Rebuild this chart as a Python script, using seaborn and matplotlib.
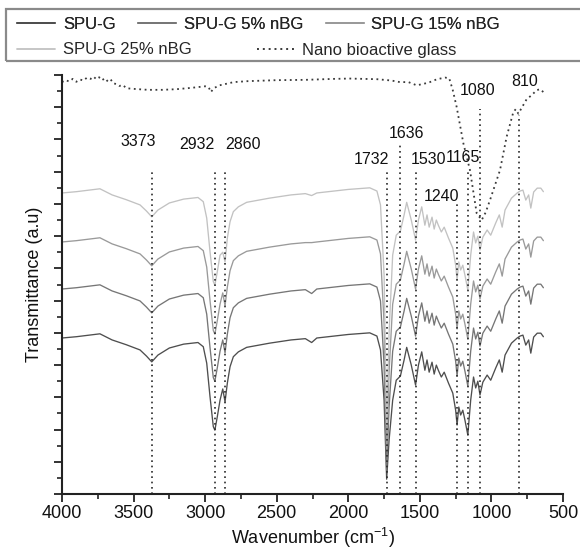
import matplotlib
matplotlib.use("Agg")
import matplotlib.pyplot as plt
from matplotlib.patches import Rectangle
from matplotlib.lines import Line2D
import seaborn as sns
import pandas as pd

# ---------------- data ----------------
wavenumber = [4000, 3900, 3735, 3650, 3550, 3455, 3410, 3373, 3330, 3250, 3150, 3050,
              3013, 2989, 2966, 2943, 2932, 2915, 2896, 2877, 2861, 2845, 2826, 2803,
              2768, 2710,
              2550, 2400, 2300, 2256, 2220, 2100, 2000, 1850, 1800, 1775, 1750, 1732,
              1715, 1690, 1665, 1636, 1610, 1592, 1560, 1530, 1510, 1487, 1465, 1450,
              1435, 1415, 1400, 1385, 1371, 1350, 1330, 1300, 1270, 1250, 1240, 1228,
              1215, 1200, 1185, 1165, 1145, 1125, 1110, 1095, 1080, 1060, 1030, 1005,
              970, 945, 925, 905, 860, 820, 800, 780, 760, 740, 725, 705, 680, 655, 637]

spu_g = [4.84, 4.88, 4.97, 4.78, 4.63, 4.47, 4.28, 4.10, 4.31, 4.53, 4.65, 4.70,
         4.57, 4.06, 3.02, 2.09, 1.98, 2.40, 2.91, 3.26, 2.86, 3.44, 3.95, 4.26,
         4.41, 4.55,
         4.68, 4.78, 4.82, 4.70, 4.84, 4.90, 4.95, 5.00, 4.90, 4.47, 2.91, 0.46,
         1.67, 2.91, 3.53, 3.66, 4.16, 4.55, 4.00, 3.38, 4.00, 4.41, 3.84, 4.16,
         3.78, 4.09, 3.72, 4.00, 3.84, 3.63, 3.78, 3.44, 3.13, 2.60, 2.14, 2.70,
         2.45, 2.60, 2.29, 1.83, 2.91, 3.63, 3.29, 3.50, 3.07, 3.47, 3.69, 3.53,
         3.91, 4.16, 3.78, 4.31, 4.68, 4.84, 4.90, 4.93, 4.62, 4.78, 4.37, 4.87,
         4.99, 4.99, 4.88]

spu_g_5 = [6.36, 6.40, 6.49, 6.30, 6.15, 5.99, 5.80, 5.62, 5.83, 6.05, 6.17, 6.22,
           6.09, 5.58, 4.54, 3.61, 3.50, 3.92, 4.43, 4.78, 4.38, 4.96, 5.47, 5.78,
           5.93, 6.07,
           6.20, 6.30, 6.34, 6.22, 6.36, 6.42, 6.47, 6.52, 6.42, 5.99, 4.00, 0.74,
           2.70, 4.43, 5.05, 5.18, 5.68, 6.07, 5.52, 4.90, 5.52, 5.93, 5.36, 5.68,
           5.30, 5.61, 5.24, 5.52, 5.36, 5.15, 5.30, 4.96, 4.65, 4.12, 3.66, 4.22,
           3.97, 4.12, 3.81, 3.35, 4.43, 5.15, 4.81, 5.02, 4.59, 4.99, 5.21, 5.05,
           5.43, 5.68, 5.30, 5.83, 6.20, 6.36, 6.42, 6.45, 6.14, 6.30, 5.89, 6.39,
           6.51, 6.51, 6.40]

spu_g_15 = [7.82, 7.86, 7.95, 7.76, 7.61, 7.45, 7.26, 7.08, 7.29, 7.51, 7.63, 7.68,
            7.55, 7.04, 6.00, 5.07, 4.96, 5.38, 5.89, 6.24, 5.84, 6.42, 6.93, 7.24,
            7.39, 7.53,
            7.66, 7.76, 7.80, 7.80, 7.82, 7.88, 7.93, 7.98, 7.88, 7.45, 5.30, 1.36,
            3.80, 5.89, 6.51, 6.64, 7.14, 7.53, 6.98, 6.36, 6.98, 7.39, 6.82, 7.14,
            6.76, 7.07, 6.70, 6.98, 6.82, 6.61, 6.76, 6.42, 6.11, 5.58, 5.12, 5.68,
            5.43, 5.58, 5.27, 4.81, 5.89, 6.61, 6.27, 6.48, 6.05, 6.45, 6.67, 6.51,
            6.89, 7.14, 6.76, 7.29, 7.66, 7.82, 7.88, 7.91, 7.60, 7.76, 7.35, 7.85,
            7.97, 7.97, 7.86]

spu_g_25 = [9.34, 9.38, 9.47, 9.28, 9.13, 8.97, 8.78, 8.60, 8.81, 9.03, 9.15, 9.20,
            9.07, 8.56, 7.52, 6.59, 6.48, 6.90, 7.41, 7.50, 7.20, 7.94, 8.45, 8.76,
            8.91, 9.05,
            9.18, 9.28, 9.32, 9.26, 9.34, 9.40, 9.45, 9.50, 9.40, 8.97, 6.80, 2.14,
            5.00, 7.41, 8.03, 8.16, 8.66, 9.05, 8.50, 7.88, 8.50, 8.91, 8.34, 8.66,
            8.28, 8.59, 8.22, 8.50, 8.34, 8.13, 8.28, 7.94, 7.63, 7.10, 6.64, 7.20,
            6.95, 7.10, 6.79, 6.33, 7.41, 8.13, 7.79, 8.00, 7.57, 7.97, 8.19, 8.03,
            8.41, 8.66, 8.28, 8.81, 9.18, 9.34, 9.40, 9.43, 9.12, 9.28, 8.87, 9.37,
            9.49, 9.49, 9.38]

bg_wavenumber = [4000, 3975, 3950, 3925, 3900, 3875, 3850, 3825, 3800, 3780, 3760, 3740,
                 3720, 3700, 3680, 3660, 3640, 3620, 3600, 3575, 3550, 3500, 3400, 3300,
                 3200, 3100, 3000, 2975, 2960, 2940, 2900, 2800, 2700, 2500, 2300, 2100,
                 1990, 1800, 1700, 1640, 1580, 1522, 1470, 1430, 1380, 1324, 1295, 1270,
                 1243, 1196, 1150, 1103, 1068, 1040, 1010, 940, 894, 847, 830, 812,
                 790, 754, 720, 684, 660, 637]
nano_bg = [12.78, 12.84, 12.80, 12.88, 12.79, 12.86, 12.83, 12.92, 12.88, 12.95, 12.87, 12.93,
           12.84, 12.90, 12.80, 12.86, 12.74, 12.72, 12.66, 12.69, 12.59, 12.57, 12.54, 12.54,
           12.56, 12.60, 12.65, 12.62, 12.47, 12.59, 12.68, 12.78, 12.81, 12.84, 12.85, 12.88,
           12.89, 12.87, 12.83, 12.78, 12.78, 12.68, 12.73, 12.78, 12.87, 12.92, 12.90, 12.53,
           12.01, 10.88, 10.05, 8.71, 8.50, 8.74, 9.12, 10.05, 11.08, 11.85, 11.94, 11.80,
           11.97, 12.25, 12.37, 12.53, 12.56, 12.47]

series_names = ["SPU-G", "SPU-G 5% nBG", "SPU-G 15% nBG", "SPU-G 25% nBG"]
bg_name = "Nano bioactive glass"

peak_positions = [3373, 2932, 2860, 1732, 1636, 1530, 1240, 1165, 1080, 810]
peak_line_tops = [10.0, 10.0, 10.0, 10.0, 10.87, 10.0, 9.06, 10.05, 11.96, 11.75]
peak_labels = ["3373", "2932", "2860", "1732", "1636", "1530", "1240", "1165", "1080", "810"]
label_x = [3469, 3059, 2738, 1836, 1592, 1441, 1347, 1196, 1096, 766]
label_y = [10.95, 10.84, 10.84, 10.38, 11.18, 10.38, 9.24, 10.44, 12.53, 12.81]

x_ticks = [4000, 3500, 3000, 2500, 2000, 1500, 1000, 500]

# ---------------- style ----------------
sns.set_theme(style="ticks")
plt.rcParams["font.family"] = ["Liberation Sans", "DejaVu Sans"]
plt.rcParams["mathtext.fontset"] = "custom"
plt.rcParams["mathtext.rm"] = "Liberation Sans"
plt.rcParams["mathtext.it"] = "Liberation Sans:italic"
plt.rcParams["mathtext.bf"] = "Liberation Sans:bold"

colors = ["#4e4e4e", "#767676", "#9a9a9a", "#c2c2c2"]
bg_color = "#3a3a3a"

fig = plt.figure(figsize=(5.80, 5.54), dpi=100)
ax = fig.add_axes([0.1069, 0.1083, 0.8638, 0.7563])

frames = []
for name, vals in zip(series_names, [spu_g, spu_g_5, spu_g_15, spu_g_25]):
    frames.append(pd.DataFrame({"wavenumber": wavenumber, "T": vals, "sample": name}))
df = pd.concat(frames, ignore_index=True)
df_bg = pd.DataFrame({"wavenumber": bg_wavenumber, "T": nano_bg})

for name, col in zip(series_names, colors):
    sub = df[df["sample"] == name]
    sns.lineplot(data=sub, x="wavenumber", y="T", color=col, lw=0.95,
                 ax=ax, legend=False, estimator=None, sort=False)
sns.lineplot(data=df_bg, x="wavenumber", y="T", color=bg_color, lw=1.3,
             linestyle=(0, (1, 2)), ax=ax, legend=False, estimator=None, sort=False)

# peak marker lines and labels
ax.vlines(peak_positions, 0, peak_line_tops, colors="#2a2a2a",
          linestyles=(0, (1, 2.2)), lw=1.2)
for lab, lx, ly in zip(peak_labels, label_x, label_y):
    ax.text(lx, ly, lab, ha="center", va="center", fontsize=11.5, color="#111111")

# axes
ax.set_xlim(4000, 500)
ax.set_ylim(0, 13)
ax.set_xticks(x_ticks)
ax.set_xticks([3750, 3250, 2750, 2250, 1750, 1250, 750], minor=True)
ax.set_yticks(list(range(0, 14)))
ax.set_yticks([i + 0.5 for i in range(13)], minor=True)
ax.set_yticklabels([])
ax.tick_params(axis="both", which="major", direction="out", length=6, width=1.3,
               color="#222222", labelsize=13, labelcolor="#111111", pad=2)
ax.tick_params(axis="both", which="minor", direction="out", length=3.5, width=1.2,
               color="#222222")
for s in ["top", "right"]:
    ax.spines[s].set_visible(False)
for s in ["left", "bottom"]:
    ax.spines[s].set_linewidth(1.5)
    ax.spines[s].set_color("#222222")
ax.set_xlabel(r"Wavenumber (cm$^{-1}$)", fontsize=13, color="#111111", labelpad=3)
ax.set_ylabel("Transmittance (a.u)", fontsize=13, color="#111111", labelpad=6)

# legend (two rows, shared frame)
h = [Line2D([], [], color=c, lw=1.3) for c in colors]
hbg = Line2D([], [], color=bg_color, lw=1.4, linestyle=(0, (1, 2)))
leg1 = fig.legend(h[:3], series_names[:3], loc="center left",
                  bbox_to_anchor=(17 / 580, 1 - 24.5 / 554),
                  ncol=3, frameon=False, fontsize=12, handlelength=2.3,
                  handletextpad=0.45, columnspacing=1.35, borderaxespad=0,
                  borderpad=0)
leg2 = fig.legend([h[3], hbg], [series_names[3], bg_name], loc="center left",
                  bbox_to_anchor=(17 / 580, 1 - 50 / 554), ncol=2, frameon=False,
                  fontsize=12, handlelength=2.3, handletextpad=0.45,
                  columnspacing=3.9, borderaxespad=0, borderpad=0)
fig.add_artist(leg1)
fig.patches.append(Rectangle((0.011, 1 - 61 / 554), 1.2, (61 - 9) / 554,
                             transform=fig.transFigure, fill=False,
                             edgecolor="#8a8a8a", lw=1.6))

fig.savefig("out.png", dpi=100, facecolor="white")
